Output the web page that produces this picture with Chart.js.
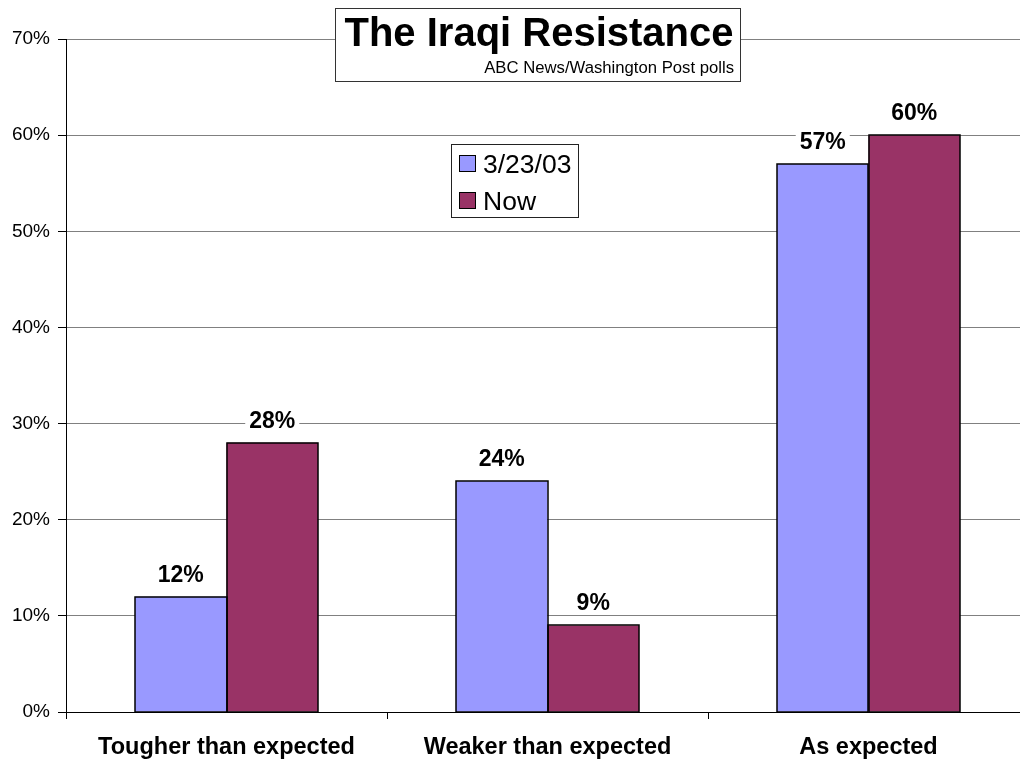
<!DOCTYPE html>
<html>
<head>
<meta charset="utf-8">
<script src="https://cdn.jsdelivr.net/npm/chart.js@4"></script>
<style>
  html, body { margin:0; padding:0; background:#fff; overflow:hidden; }
  #wrap { width:1029px; height:759px; }
</style>
</head>
<body>
<div id="wrap"><canvas id="c" width="1029" height="759"></canvas></div>
<script>
const categories = ["Tougher than expected", "Weaker than expected", "As expected"];
const seriesNames = ["3/23/03", "Now"];
const series1 = [12, 24, 57];
const series2 = [28, 9, 60];
const yTicks = [0, 10, 20, 30, 40, 50, 60, 70];
const titleText = "The Iraqi Resistance";
const subtitleText = "ABC News/Washington Post polls";

const FONT = "'Liberation Sans', Arial, sans-serif";

const labelPlugin = {
  id: 'barLabels',
  afterDatasetsDraw(chart) {
    const ctx = chart.ctx;
    ctx.save();
    // crisp bar outlines
    ctx.strokeStyle = '#000';
    ctx.lineWidth = 1.5;
    chart.data.datasets.forEach((ds, di) => {
      chart.getDatasetMeta(di).data.forEach(bar => {
        const l = Math.round(bar.x - bar.width / 2);
        const r = Math.round(bar.x + bar.width / 2);
        const t = Math.round(bar.y);
        const b = Math.round(bar.base);
        ctx.strokeRect(l, t, r - l, b - t);
      });
    });
    ctx.font = "bold 23px " + FONT;
    ctx.textAlign = 'center';
    ctx.textBaseline = 'alphabetic';
    chart.data.datasets.forEach((ds, di) => {
      const meta = chart.getDatasetMeta(di);
      meta.data.forEach((bar, i) => {
        const txt = ds.data[i] + '%';
        const w = ctx.measureText(txt).width;
        const by = bar.y - 15;
        ctx.fillStyle = '#fff';
        ctx.fillRect(bar.x - w/2 - 4, by - 20, w + 8, 24);
        ctx.fillStyle = '#000';
        ctx.fillText(txt, bar.x, by);
      });
    });
    ctx.restore();
  }
};

const boxPlugin = {
  id: 'boxes',
  afterDraw(chart) {
    const ctx = chart.ctx;
    ctx.save();
    // Title box
    ctx.fillStyle = '#fff';
    ctx.fillRect(335, 8, 406, 74);
    ctx.strokeStyle = '#333';
    ctx.lineWidth = 1;
    ctx.strokeRect(335.5, 8.5, 405, 73);
    ctx.fillStyle = '#000';
    ctx.font = "bold 40px " + FONT;
    ctx.textAlign = 'center';
    ctx.textBaseline = 'alphabetic';
    ctx.fillText(titleText, 539, 46);
    ctx.font = "16.7px " + FONT;
    ctx.textAlign = 'right';
    ctx.fillText(subtitleText, 734, 73);
    // Legend box
    ctx.fillStyle = '#fff';
    ctx.fillRect(451, 144, 128, 74);
    ctx.strokeStyle = '#222';
    ctx.strokeRect(451.5, 144.5, 127, 73);
    ctx.font = "26.5px " + FONT;
    ctx.textAlign = 'left';
    chart.data.datasets.forEach((ds, i) => {
      const y = 155 + i * 37;
      ctx.fillStyle = ds.backgroundColor;
      ctx.fillRect(459, y, 17, 17);
      ctx.strokeStyle = '#000';
      ctx.strokeRect(459.5, y + 0.5, 16, 16);
      ctx.fillStyle = '#000';
      ctx.fillText(ds.label, 483, y + 18);
    });
    ctx.restore();
  }
};

new Chart(document.getElementById('c'), {
  type: 'bar',
  data: {
    labels: categories,
    datasets: [
      { label: seriesNames[0], data: series1, backgroundColor: '#9999FF', borderWidth: 0 },
      { label: seriesNames[1], data: series2, backgroundColor: '#993366', borderWidth: 0 }
    ]
  },
  options: {
    responsive: false,
    animation: false,
    devicePixelRatio: 1,
    layout: { padding: { top: 39, left: 0, right: 0, bottom: 0 } },
    datasets: { bar: { categoryPercentage: 0.57, barPercentage: 1.0 } },
    plugins: { legend: { display: false }, title: { display: false }, tooltip: { enabled: false } },
    scales: {
      x: {
        afterFit(s) { s.height = 47; },
        grid: { display: true, drawOnChartArea: false, offset: true, tickLength: 7, tickColor: '#000' },
        border: { color: '#000', width: 1 },
        ticks: { color: '#000', font: { family: FONT, size: 23.5, weight: 'bold' }, padding: 14, maxRotation: 0, autoSkip: false }
      },
      y: {
        min: 0, max: 70,
        afterFit(s) { s.width = 66; },
        afterBuildTicks(s) { s.ticks = yTicks.map(v => ({ value: v })); },
        grid: { color: '#808080', tickLength: 8, tickColor: '#000' },
        border: { color: '#000', width: 1 },
        ticks: { color: '#000', font: { family: FONT, size: 19 }, padding: 8, callback: v => v + '%' }
      }
    }
  },
  plugins: [labelPlugin, boxPlugin]
});
</script>
</body>
</html>
